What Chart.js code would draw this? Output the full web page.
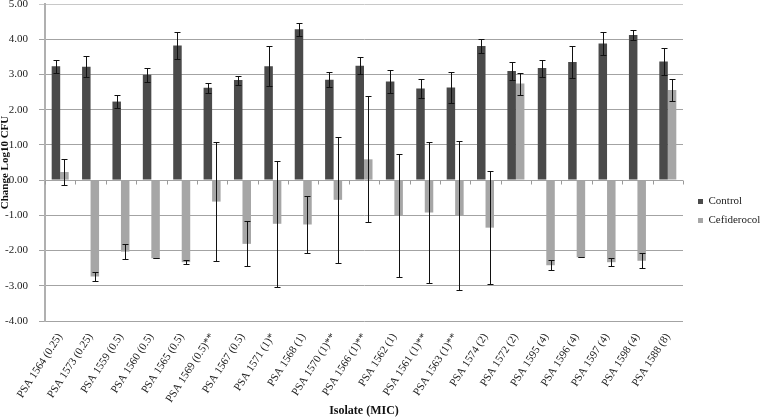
<!DOCTYPE html>
<html>
<head>
<meta charset="utf-8">
<script src="https://cdn.jsdelivr.net/npm/chart.js@4.4.1/dist/chart.umd.min.js"></script>
<style>
    html, body { margin: 0; padding: 0; background: #fff; }
    #wrap { width: 760px; height: 418px; position: relative; }
</style>
</head>
<body>
<div id="wrap"><canvas id="cfuChart"></canvas></div>
<script>
// --- data ---
const isolates = [
    'PSA 1564 (0.25)', 'PSA 1573 (0.25)', 'PSA 1559 (0.5)', 'PSA 1560 (0.5)', 'PSA 1565 (0.5)',
    'PSA 1569 (0.5)**', 'PSA 1567 (0.5)', 'PSA 1571 (1)*', 'PSA 1568 (1)', 'PSA 1570 (1)**',
    'PSA 1566 (1)**', 'PSA 1562 (1)', 'PSA 1561 (1)**', 'PSA 1563 (1)**', 'PSA 1574 (2)',
    'PSA 1572 (2)', 'PSA 1595 (4)', 'PSA 1596 (4)', 'PSA 1597 (4)', 'PSA 1598 (4)', 'PSA 1588 (8)'
];
const controlVals = [3.23, 3.22, 2.23, 2.99, 3.82, 2.62, 2.84, 3.23, 4.28, 2.85, 3.25, 2.80, 2.60, 2.63, 3.81, 3.10, 3.18, 3.35, 3.88, 4.12, 3.37];
const controlErr  = [0.19, 0.29, 0.18, 0.20, 0.38, 0.14, 0.13, 0.57, 0.19, 0.22, 0.24, 0.34, 0.27, 0.43, 0.21, 0.26, 0.24, 0.46, 0.33, 0.14, 0.39];
const cefVals = [0.23, -2.74, -2.03, -2.22, -2.33, -0.61, -1.81, -1.24, -1.26, -0.56, 0.59, -1.00, -0.92, -1.00, -1.35, 2.74, -2.42, -2.19, -2.33, -2.29, 2.56];
const cefErr  = [0.37, 0.13, 0.21, 0.00, 0.06, 1.69, 0.64, 1.79, 0.82, 1.79, 1.79, 1.74, 2.00, 2.12, 1.60, 0.31, 0.14, 0.00, 0.11, 0.21, 0.31];
const yTicks = [-4, -3, -2, -1, 0, 1, 2, 3, 4, 5];

const SERIF = "'Liberation Serif', 'Times New Roman', serif";

document.addEventListener('DOMContentLoaded', function () {

    // error bars: +/- err around each bar value, drawn through the y scale
    const errorBars = {
        id: 'errorBars',
        afterDatasetsDraw(chart) {
            const ctx = chart.ctx;
            const yScale = chart.scales.y;
            ctx.save();
            ctx.strokeStyle = '#111';
            ctx.lineWidth = 1;
            chart.data.datasets.forEach((ds, di) => {
                const meta = chart.getDatasetMeta(di);
                meta.data.forEach((bar, i) => {
                    const v = ds.data[i];
                    const e = ds.errors[i];
                    const x = Math.round(bar.x) + 0.5;
                    const yHi = Math.round(yScale.getPixelForValue(v + e)) + 0.5;
                    const yLo = Math.round(yScale.getPixelForValue(v - e)) + 0.5;
                    ctx.beginPath();
                    ctx.moveTo(x, yHi); ctx.lineTo(x, yLo);
                    ctx.moveTo(x - 3, yHi); ctx.lineTo(x + 3, yHi);
                    ctx.moveTo(x - 3, yLo); ctx.lineTo(x + 3, yLo);
                    ctx.stroke();
                });
            });
            ctx.restore();
        }
    };

    // small tick marks on the zero line between categories
    const zeroTicks = {
        id: 'zeroTicks',
        afterDatasetsDraw(chart) {
            const ctx = chart.ctx;
            const xScale = chart.scales.x;
            const y0 = Math.round(chart.scales.y.getPixelForValue(0)) + 0.5;
            ctx.save();
            ctx.strokeStyle = '#9a9a9a';
            ctx.lineWidth = 1;
            ctx.beginPath();
            for (let i = 0; i <= isolates.length; i++) {
                const x = Math.round(xScale.getPixelForValue(i - 0.5)) + 0.5;
                ctx.moveTo(x, y0); ctx.lineTo(x, y0 + 4);
            }
            ctx.stroke();
            ctx.restore();
        }
    };

    // nudge the legend a little to the right of the plot edge
    const legendNudge = {
        id: 'legendNudge',
        afterLayout(chart) {
            if (chart.legend) {
                chart.legend.left += 7;
                chart.legend.right += 7;
            }
        }
    };

    const el = document.getElementById('cfuChart');
    new Chart(el.getContext('2d'), {
        type: 'bar',
        data: {
            labels: isolates,
            datasets: [
                {
                    label: 'Control',
                    data: controlVals,
                    errors: controlErr,
                    backgroundColor: '#4a4a4a',
                    categoryPercentage: 0.56,
                    barPercentage: 1.0
                },
                {
                    label: 'Cefiderocol',
                    data: cefVals,
                    errors: cefErr,
                    backgroundColor: '#a6a6a6',
                    categoryPercentage: 0.56,
                    barPercentage: 1.0
                }
            ]
        },
        options: {
            responsive: true,
            maintainAspectRatio: false,
            animation: false,
            layout: { padding: { top: 4, left: 0, right: 0, bottom: 0 } },
            plugins: {
                tooltip: { enabled: false },
                legend: {
                    position: 'right',
                    maxWidth: 77,
                    labels: {
                        boxWidth: 5,
                        boxHeight: 5,
                        padding: 8,
                        color: '#222',
                        font: { family: SERIF, size: 11 }
                    }
                }
            },
            scales: {
                x: {
                    grid: { display: false },
                    border: { display: false },
                    ticks: {
                        autoSkip: false,
                        minRotation: 57,
                        maxRotation: 57,
                        padding: 2,
                        color: '#222',
                        font: { family: SERIF, size: 11 }
                    },
                    title: {
                        display: true,
                        text: 'Isolate (MIC)',
                        color: '#111',
                        padding: 0,
                        font: { family: SERIF, size: 12, weight: 'bold' }
                    },
                    afterFit(scale) { scale.height = 97; }
                },
                y: {
                    min: -4,
                    max: 5,
                    afterBuildTicks(scale) { scale.ticks = yTicks.map(v => ({ value: v })); },
                    grid: {
                        color: ctx => (ctx.tick && ctx.tick.value === 5) ? '#c8c8c8' : '#a3a3a3',
                        lineWidth: 1,
                        tickLength: 6
                    },
                    border: { color: '#b0b0b0', width: 2 },
                    ticks: {
                        padding: 11,
                        color: '#222',
                        font: { family: SERIF, size: 11 },
                        callback: v => Number(v).toFixed(2)
                    },
                    title: {
                        display: true,
                        text: 'Change Log10 CFU',
                        color: '#111',
                        padding: 0,
                        font: { family: SERIF, size: 11, weight: 'bold', lineHeight: 1.0 }
                    },
                    afterFit(scale) {
                        scale.width = 45;
                        scale.paddingTop = 0;
                        scale.paddingBottom = 0;
                    }
                }
            }
        },
        plugins: [zeroTicks, errorBars, legendNudge]
    });
});
</script>
</body>
</html>
